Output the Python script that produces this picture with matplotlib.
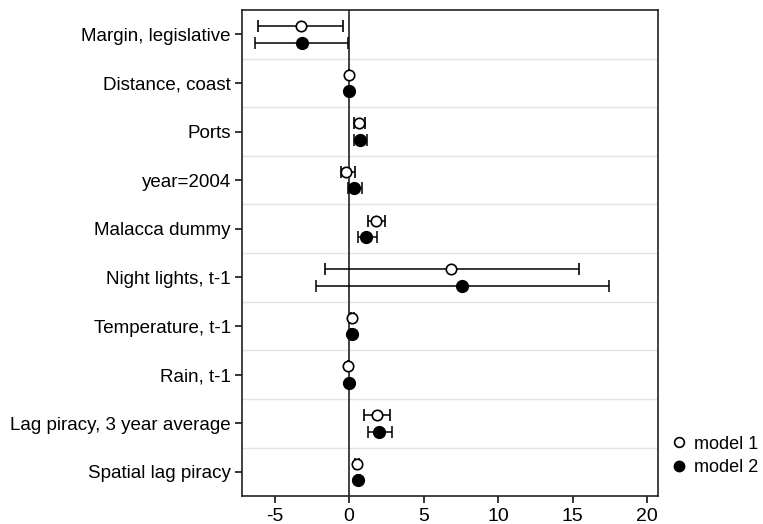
import matplotlib
matplotlib.use("Agg")
import matplotlib.pyplot as plt
from matplotlib.lines import Line2D
import numpy as np

plt.rcParams['font.family'] = ['Liberation Sans', 'DejaVu Sans']
plt.rcParams['axes.unicode_minus'] = False

labels = ["Margin, legislative", "Distance, coast", "Ports", "year=2004",
          "Malacca dummy", "Night lights, t-1", "Temperature, t-1", "Rain, t-1",
          "Lag piracy, 3 year average", "Spatial lag piracy"]

# model 1: estimate, lower, upper
m1_est = [-3.25, 0.0, 0.65, -0.2, 1.8, 6.85, 0.2, -0.05, 1.85, 0.5]
m1_lo = [-6.1, -0.02, 0.35, -0.55, 1.25, -1.6, 0.1, -0.07, 1.0, 0.4]
m1_hi = [-0.4, 0.02, 1.05, 0.4, 2.4, 15.4, 0.3, -0.03, 2.75, 0.65]

# model 2
m2_est = [-3.15, 0.0, 0.75, 0.3, 1.1, 7.6, 0.2, 0.0, 2.0, 0.6]
m2_lo = [-6.3, -0.02, 0.3, -0.1, 0.6, -2.2, 0.12, -0.02, 1.25, 0.5]
m2_hi = [-0.05, 0.02, 1.2, 0.85, 1.85, 17.4, 0.28, 0.02, 2.85, 0.75]

fig = plt.figure(figsize=(7.63, 5.24), dpi=100)
ax = fig.add_axes([0.317, 0.053, 0.545, 0.928])

y = np.arange(len(labels))
off = 0.17

# boundary grid lines
for b in np.arange(0.5, len(labels) - 0.5, 1):
    ax.axhline(b, color='#e3e3e3', lw=1, zorder=0)
ax.axvline(0, color='#222222', lw=1.2, zorder=1)

m1_est = np.array(m1_est); m2_est = np.array(m2_est)
err1 = [m1_est - np.array(m1_lo), np.array(m1_hi) - m1_est]
err2 = [m2_est - np.array(m2_lo), np.array(m2_hi) - m2_est]

ax.errorbar(m1_est, y - off, xerr=err1, fmt='o', mfc='white', mec='black',
            mew=1.2, ms=7.5, ecolor='black', elinewidth=1.1, capsize=4.5,
            capthick=1.1, color='black', zorder=3)
ax.errorbar(m2_est, y + off, xerr=err2, fmt='o', mfc='black', mec='black',
            ms=8.5, ecolor='black', elinewidth=1.1, capsize=4.5,
            capthick=1.1, color='black', zorder=3)

ax.set_yticks(y)
ax.set_yticklabels(labels, fontsize=13.5)
ax.set_ylim(len(labels) - 0.5, -0.5)
ax.set_xlim(-7.2, 20.7)
ax.set_xticks([-5, 0, 5, 10, 15, 20])
ax.tick_params(axis='x', labelsize=14, length=5, width=1.1)
ax.tick_params(axis='y', length=5, width=1.1, pad=3)
for s in ax.spines.values():
    s.set_linewidth(1.2)
    s.set_color('#222222')

hh = [Line2D([], [], marker='o', ls='none', mfc='white', mec='black', mew=1.2, ms=7),
      Line2D([], [], marker='o', ls='none', mfc='black', mec='black', ms=7.5)]
fig.legend(hh, ['model 1', 'model 2'], loc='lower left',
           bbox_to_anchor=(0.872, 0.085), frameon=False, fontsize=13,
           handletextpad=0.3, labelspacing=0.35, handlelength=1.1,
           borderaxespad=0, borderpad=0.2)

fig.savefig('out.png', dpi=100)
